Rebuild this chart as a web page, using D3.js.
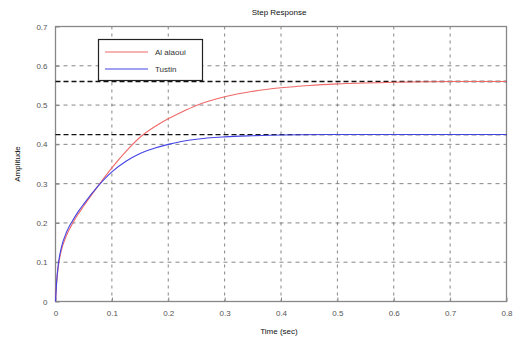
<!DOCTYPE html>
<html>
<head>
<meta charset="utf-8">
<script src="https://cdn.jsdelivr.net/npm/d3@7"></script>
<style>
  html, body { margin: 0; padding: 0; background: #fff; }
  svg { display: block; font-family: "Liberation Sans", Arial, sans-serif; }
</style>
</head>
<body>
<svg id="chart" width="513" height="341"></svg>
<script>
// Step responses of two discretisations of the same system
const seriesNames = ["Al alaoui", "Tustin"];

const alaouiTime = [0, 0.002, 0.005, 0.01, 0.02, 0.03, 0.04, 0.05, 0.075, 0.1, 0.125, 0.15, 0.175, 0.2, 0.225, 0.25, 0.3, 0.35, 0.4, 0.45, 0.5, 0.6, 0.7, 0.8];
const alaouiAmp  = [0, 0.048, 0.09, 0.128, 0.17, 0.198, 0.222, 0.243, 0.293, 0.34, 0.382, 0.418, 0.444, 0.465, 0.483, 0.499, 0.521, 0.535, 0.544, 0.55, 0.554, 0.558, 0.56, 0.56];

const tustinTime = [0, 0.002, 0.005, 0.01, 0.02, 0.03, 0.04, 0.05, 0.075, 0.1, 0.125, 0.15, 0.175, 0.2, 0.25, 0.3, 0.35, 0.4, 0.5, 0.6, 0.7, 0.8];
const tustinAmp  = [0, 0.05, 0.095, 0.135, 0.178, 0.205, 0.228, 0.248, 0.293, 0.33, 0.357, 0.377, 0.39, 0.4, 0.413, 0.419, 0.422, 0.424, 0.425, 0.425, 0.425, 0.425];

// steady-state levels of each response
const finalValues = [0.56, 0.425];

const xTicks = [0, 0.1, 0.2, 0.3, 0.4, 0.5, 0.6, 0.7, 0.8];
const yTicks = [0, 0.1, 0.2, 0.3, 0.4, 0.5, 0.6, 0.7];

const colors = ["#f06868", "#4444e4"];

const svg = d3.select("#chart");
const m = { left: 55.5, right: 506.5, top: 26.5, bottom: 301.5 };

const x = d3.scaleLinear().domain([0, 0.8]).range([m.left, m.right]);
const y = d3.scaleLinear().domain([0, 0.7]).range([m.bottom, m.top]);

// grid
const grid = svg.append("g");
grid.selectAll("line.vx").data(xTicks.slice(1, -1)).join("line")
  .attr("x1", d => x(d)).attr("x2", d => x(d))
  .attr("y1", m.top).attr("y2", m.bottom)
  .attr("stroke", "#666").attr("stroke-width", 0.8)
  .attr("stroke-dasharray", "3,4");
grid.selectAll("line.hy").data(yTicks.slice(1, -1)).join("line")
  .attr("x1", m.left).attr("x2", m.right)
  .attr("y1", d => y(d)).attr("y2", d => y(d))
  .attr("stroke", "#666").attr("stroke-width", 0.8)
  .attr("stroke-dasharray", "4,4");

// axes box
svg.append("rect")
  .attr("x", m.left).attr("y", m.top)
  .attr("width", m.right - m.left).attr("height", m.bottom - m.top)
  .attr("fill", "none").attr("stroke", "#888").attr("stroke-width", 1.3);

// axes with inward ticks
const xAxis = d3.axisBottom(x).tickValues(xTicks).tickSize(-4).tickPadding(9)
  .tickFormat(d => d === 0 ? "0" : d3.format(".1f")(d));
const yAxis = d3.axisLeft(y).tickValues(yTicks).tickSize(-4).tickPadding(8)
  .tickFormat(d => d === 0 ? "0" : d3.format(".1f")(d));

const gx = svg.append("g").attr("transform", `translate(0,${m.bottom})`).call(xAxis);
const gy = svg.append("g").attr("transform", `translate(${m.left},0)`).call(yAxis);
[gx, gy].forEach(g => {
  g.select(".domain").remove();
  g.selectAll("line").attr("stroke", "#888");
  g.selectAll("text").attr("fill", "#555").style("font-size", "8px");
});

// steady-state reference lines
svg.append("g").selectAll("line").data(finalValues).join("line")
  .attr("x1", m.left).attr("x2", m.right)
  .attr("y1", d => y(d)).attr("y2", d => y(d))
  .attr("stroke", "#111").attr("stroke-width", 1.3)
  .attr("stroke-dasharray", "5,3");

// responses
const line = d3.line().x(d => x(d[0])).y(d => y(d[1])).curve(d3.curveMonotoneX);
const series = [
  d3.zip(alaouiTime, alaouiAmp),
  d3.zip(tustinTime, tustinAmp)
];
svg.append("g").selectAll("path").data(series).join("path")
  .attr("d", line)
  .attr("fill", "none")
  .attr("stroke", (d, i) => colors[i])
  .attr("stroke-width", 1.1);

// legend
const lg = svg.append("g");
lg.append("rect").attr("x", 98.5).attr("y", 39.5).attr("width", 104).attr("height", 41)
  .attr("fill", "#fff").attr("stroke", "#222").attr("stroke-width", 1.2);
seriesNames.forEach((name, i) => {
  const ly = 52 + i * 17;
  lg.append("line").attr("x1", 105).attr("x2", 148).attr("y1", ly).attr("y2", ly)
    .attr("stroke", colors[i]).attr("stroke-width", 1.1);
  lg.append("text").attr("x", 155).attr("y", ly + 3).text(name)
    .attr("fill", "#333").style("font-size", "8px");
});

// title and axis labels
svg.append("text").attr("x", 279).attr("y", 15).attr("text-anchor", "middle")
  .style("font-size", "8px").attr("fill", "#111").text("Step Response");
svg.append("text").attr("x", 279).attr("y", 334).attr("text-anchor", "middle")
  .style("font-size", "8px").attr("fill", "#111").text("Time (sec)");
svg.append("text").attr("transform", `translate(20,${(m.top + m.bottom) / 2}) rotate(-90)`)
  .attr("text-anchor", "middle").style("font-size", "8px").attr("fill", "#111").text("Amplitude");
</script>
</body>
</html>
